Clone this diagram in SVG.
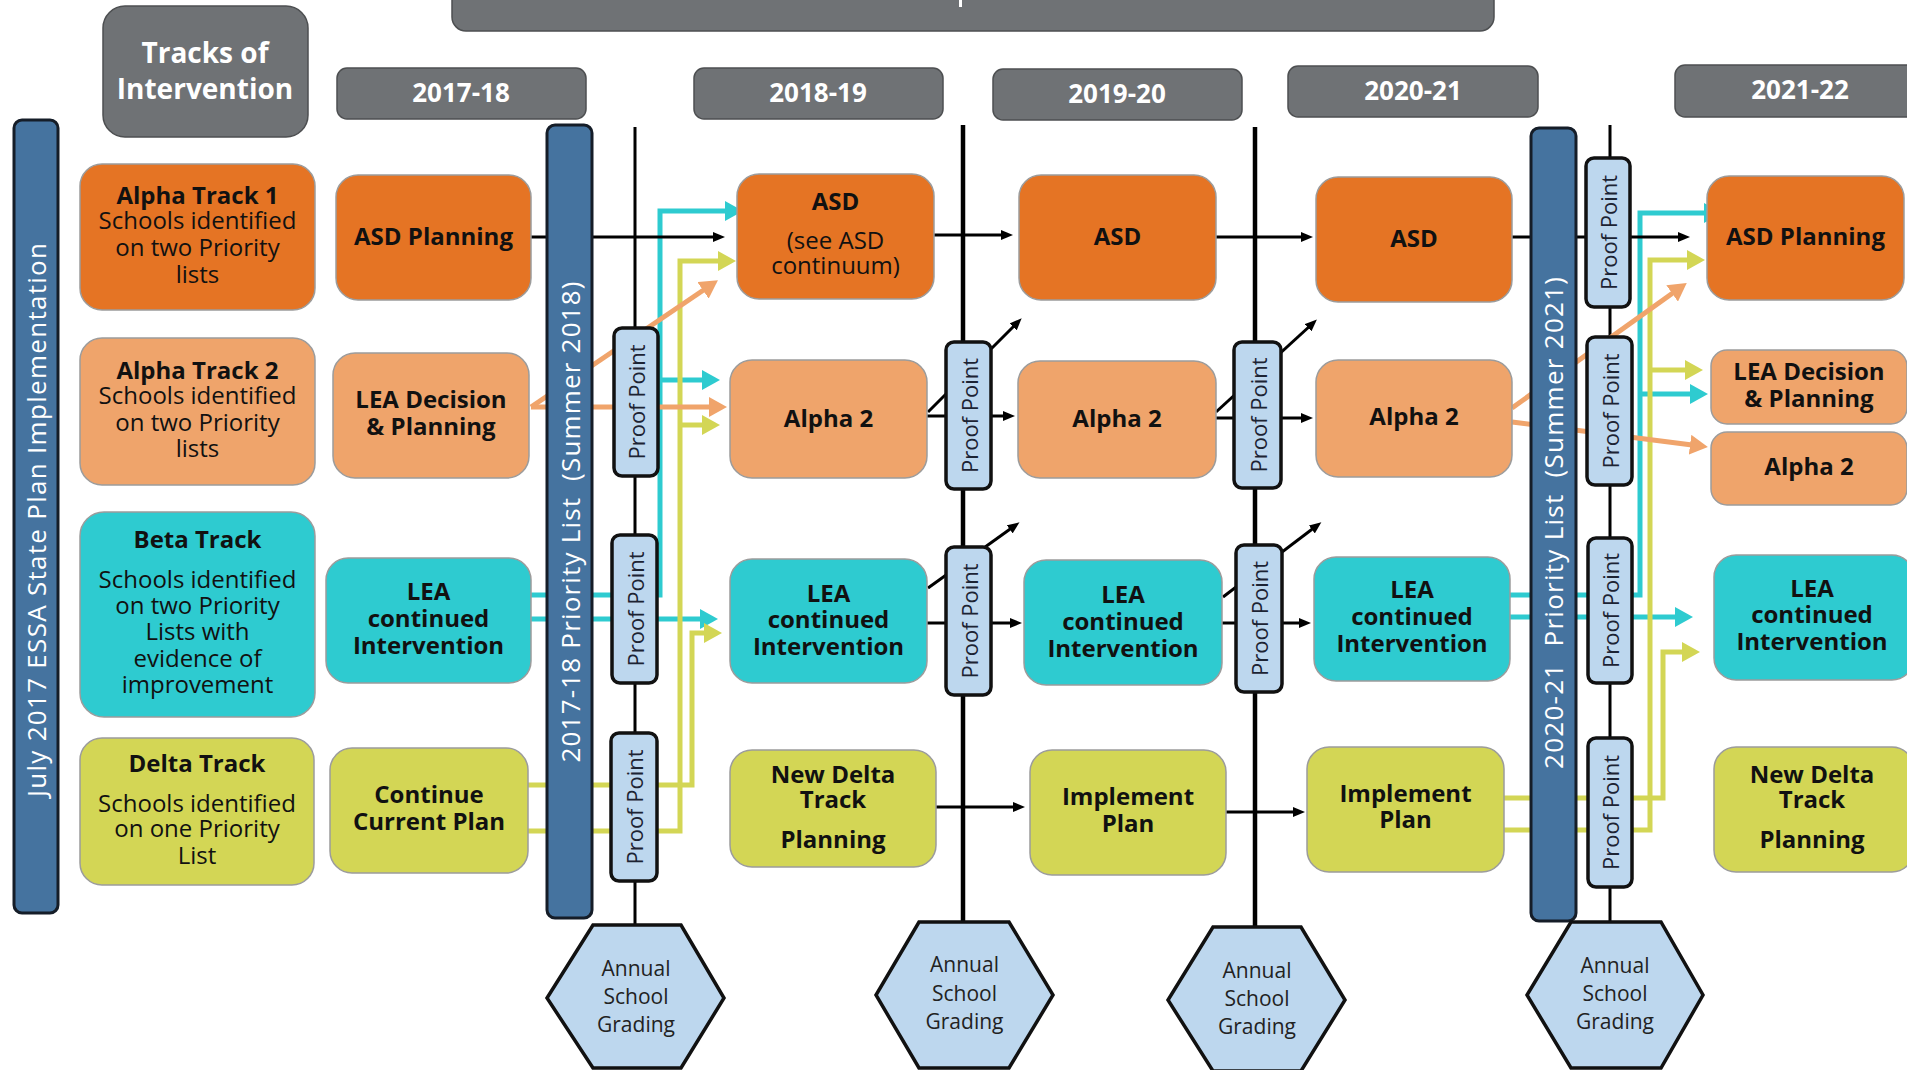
<svg xmlns="http://www.w3.org/2000/svg" width="1907" height="1070" viewBox="0 0 1907 1070">
<style>
text{font-family:"Open Sans","DejaVu Sans",sans-serif;}
.hdr{fill:#6f7275;stroke:#4d4f51;stroke-width:1.5;}
.hdrt{fill:#fff;font-weight:700;font-size:26px;text-anchor:middle;}
.n{stroke:#9c9c9c;stroke-width:1.5;}
.o1{fill:#e57424;}
.o2{fill:#efa46b;}
.cy{fill:#2ecbd0;}
.yl{fill:#d3d655;}
.b{font-weight:700;font-size:24px;fill:#111;text-anchor:middle;}
.r{font-size:24px;fill:#111;text-anchor:middle;}
.bw{font-weight:700;}
.rw{font-weight:400;}
.bar{fill:#45739f;stroke:#151d28;stroke-width:3;}
.bart{fill:#fff;font-size:26px;text-anchor:middle;dominant-baseline:central;white-space:pre;}
.pp{fill:#bdd7ee;stroke:#111;stroke-width:3.5;}
.ppt{fill:#1c2333;font-size:22px;text-anchor:middle;dominant-baseline:central;}
.hex{fill:#bdd7ee;stroke:#111;stroke-width:3.5;}
.hext{fill:#222;font-size:21px;text-anchor:middle;}
.tl{stroke:#000;fill:none;}
.k{stroke:#000;stroke-width:3;fill:none;marker-end:url(#ak);}
.kc{stroke:#2ecbd0;stroke-width:5;fill:none;}
.ky{stroke:#d3d655;stroke-width:5;fill:none;}
.ko{stroke:#f0a46b;stroke-width:5;fill:none;}
</style>
<defs>
<marker id="ak" markerUnits="userSpaceOnUse" markerWidth="12" markerHeight="10" refX="4" refY="5" orient="auto"><path d="M0,0 L12,5 L0,10 z" fill="#000"/></marker>
<marker id="ac" markerUnits="userSpaceOnUse" markerWidth="18" markerHeight="20" refX="6" refY="10" orient="auto"><path d="M0,0 L18,10 L0,20 z" fill="#2ecbd0"/></marker>
<marker id="ay" markerUnits="userSpaceOnUse" markerWidth="18" markerHeight="20" refX="6" refY="10" orient="auto"><path d="M0,0 L18,10 L0,20 z" fill="#d3d655"/></marker>
<marker id="ao" markerUnits="userSpaceOnUse" markerWidth="18" markerHeight="20" refX="6" refY="10" orient="auto"><path d="M0,0 L18,10 L0,20 z" fill="#f0a46b"/></marker>
</defs>
<rect width="1907" height="1070" fill="#fff"/>

<g id="banner">
<rect class="hdr" x="452" y="-20" width="1042" height="51" rx="14"/>
<rect x="959" y="0" width="3" height="7" fill="#fff"/>
</g>

<g id="connectors">
<line class="tl" x1="635" y1="127" x2="635" y2="925" stroke-width="3"/>
<line class="tl" x1="963" y1="125" x2="963" y2="922" stroke-width="4.5"/>
<line class="tl" x1="1255" y1="127" x2="1255" y2="927" stroke-width="4.5"/>
<line class="tl" x1="1610" y1="125" x2="1610" y2="922" stroke-width="3"/>

<polyline class="kc" points="531,595 660,595 660,211 731,211" marker-end="url(#ac)"/>
<polyline class="kc" points="660,380 708,380" marker-end="url(#ac)"/>
<polyline class="kc" points="531,619 706,619" marker-end="url(#ac)"/>
<polyline class="kc" points="1510,595 1640,595 1640,213 1710,213" marker-end="url(#ac)"/>
<polyline class="kc" points="1640,394 1696,394" marker-end="url(#ac)"/>
<polyline class="kc" points="1510,617 1681,617" marker-end="url(#ac)"/>

<polyline class="ky" points="528,831 680,831 680,261 724,261" marker-end="url(#ay)"/>
<polyline class="ky" points="680,425 708,425" marker-end="url(#ay)"/>
<polyline class="ky" points="528,785 692,785 692,633 710,633" marker-end="url(#ay)"/>
<polyline class="ky" points="1504,830 1650,830 1650,260 1693,260" marker-end="url(#ay)"/>
<polyline class="ky" points="1650,370 1691,370" marker-end="url(#ay)"/>
<polyline class="ky" points="1504,798 1663,798 1663,652 1688,652" marker-end="url(#ay)"/>

<line class="ko" x1="531" y1="407" x2="708" y2="287" marker-end="url(#ao)"/>
<line class="ko" x1="531" y1="407" x2="715" y2="407" marker-end="url(#ao)"/>
<line class="ko" x1="1512" y1="408" x2="1677" y2="290" marker-end="url(#ao)"/>
<line class="ko" x1="1512" y1="422" x2="1696" y2="445.5" marker-end="url(#ao)"/>

<line class="k" x1="531" y1="237" x2="717" y2="237"/>
<line class="k" x1="934" y1="235" x2="1005" y2="235"/>
<line class="k" x1="1216" y1="237" x2="1305" y2="237"/>
<line class="k" x1="1512" y1="237" x2="1682" y2="237"/>
<line class="k" x1="927" y1="416" x2="1007" y2="416"/>
<line class="k" x1="928" y1="412" x2="1016" y2="324"/>
<line class="k" x1="1216" y1="418" x2="1305" y2="418"/>
<line class="k" x1="1216" y1="412" x2="1311" y2="325"/>
<line class="k" x1="927" y1="623" x2="1014" y2="623"/>
<line class="k" x1="928" y1="588" x2="1013" y2="527"/>
<line class="k" x1="1222" y1="623" x2="1303" y2="623"/>
<line class="k" x1="1223" y1="597" x2="1315" y2="527"/>
<line class="k" x1="936" y1="807" x2="1017" y2="807"/>
<line class="k" x1="1226" y1="812" x2="1297" y2="812"/>
</g>

<g id="tracks-header">
<rect class="hdr" x="103" y="6" width="205" height="131" rx="22"/>
<text x="205" y="63" fill="#fff" font-weight="700" font-size="28" text-anchor="middle"><tspan x="205">Tracks of</tspan><tspan x="205" dy="36">Intervention</tspan></text>
</g>
<g id="y2017"><rect class="hdr" x="337" y="68" width="249" height="51" rx="10"/><text class="hdrt" x="461" y="102">2017-18</text></g>
<g id="y2018"><rect class="hdr" x="694" y="68" width="249" height="51" rx="10"/><text class="hdrt" x="818" y="102">2018-19</text></g>
<g id="y2019"><rect class="hdr" x="993" y="69" width="249" height="51" rx="10"/><text class="hdrt" x="1117" y="103">2019-20</text></g>
<g id="y2020"><rect class="hdr" x="1288" y="66" width="250" height="51" rx="10"/><text class="hdrt" x="1413" y="100">2020-21</text></g>
<g id="y2021"><rect class="hdr" x="1675" y="65" width="260" height="52" rx="10"/><text class="hdrt" x="1800" y="99">2021-22</text></g>

<g id="bar-july"><rect class="bar" x="14" y="120" width="44" height="793" rx="8"/><text class="bart" transform="translate(36,520) rotate(-90)" textLength="554">July 2017 ESSA State Plan Implementation</text></g>
<g id="bar-2018"><rect class="bar" x="547" y="125" width="45" height="793" rx="8"/><text class="bart" transform="translate(570,522) rotate(-90)" textLength="481">2017-18 Priority List  (Summer 2018)</text></g>
<g id="bar-2021"><rect class="bar" x="1531" y="128" width="45" height="793" rx="8"/><text class="bart" transform="translate(1553,523) rotate(-90)" textLength="492">2020-21  Priority List  (Summer 2021)</text></g>

<g id="alpha1"><rect class="n o1" x="80" y="164" width="235" height="146" rx="22"/>
<text class="r" x="197.5" y="204"><tspan class="bw" x="197.5">Alpha Track 1</tspan><tspan x="197.5" dy="25">Schools identified</tspan><tspan x="197.5" dy="27">on two Priority</tspan><tspan x="197.5" dy="27">lists</tspan></text></g>
<g id="alpha2"><rect class="n o2" x="80" y="338" width="235" height="147" rx="22"/>
<text class="r" x="197.5" y="379"><tspan class="bw" x="197.5">Alpha Track 2</tspan><tspan x="197.5" dy="25">Schools identified</tspan><tspan x="197.5" dy="27">on two Priority</tspan><tspan x="197.5" dy="26">lists</tspan></text></g>
<g id="beta"><rect class="n cy" x="80" y="512" width="235" height="205" rx="24"/>
<text class="r" x="197.5" y="548"><tspan class="bw" x="197.5">Beta Track</tspan><tspan x="197.5" dy="40">Schools identified</tspan><tspan x="197.5" dy="26">on two Priority</tspan><tspan x="197.5" dy="26">Lists with</tspan><tspan x="197.5" dy="27">evidence of</tspan><tspan x="197.5" dy="26">improvement</tspan></text></g>
<g id="delta"><rect class="n yl" x="80" y="738" width="234" height="147" rx="22"/>
<text class="r" x="197" y="772"><tspan class="bw" x="197">Delta Track</tspan><tspan x="197" dy="40">Schools identified</tspan><tspan x="197" dy="25">on one Priority</tspan><tspan x="197" dy="27">List</tspan></text></g>

<g id="asd-planning-1718"><rect class="n o1" x="336" y="175" width="195" height="125" rx="22"/><text class="b" x="433.5" y="245">ASD Planning</text></g>
<g id="lea-decision-1718"><rect class="n o2" x="333" y="353" width="196" height="125" rx="22"/><text class="b" x="431" y="408"><tspan x="431">LEA Decision</tspan><tspan x="431" dy="27">&amp; Planning</tspan></text></g>
<g id="lea-cont-1718"><rect class="n cy" x="326" y="558" width="205" height="125" rx="22"/><text class="b" x="428.5" y="600"><tspan x="428.5">LEA</tspan><tspan x="428.5" dy="27">continued</tspan><tspan x="428.5" dy="27">Intervention</tspan></text></g>
<g id="continue-1718"><rect class="n yl" x="330" y="748" width="198" height="125" rx="22"/><text class="b" x="429" y="803"><tspan x="429">Continue</tspan><tspan x="429" dy="27">Current Plan</tspan></text></g>

<g id="asd-1819"><rect class="n o1" x="737" y="174" width="197" height="125" rx="22"/><text class="r" x="835.5" y="210"><tspan class="bw" x="835.5">ASD</tspan><tspan x="835.5" dy="39">(see ASD</tspan><tspan x="835.5" dy="25">continuum)</tspan></text></g>
<g id="alpha2-1819"><rect class="n o2" x="730" y="360" width="197" height="118" rx="22"/><text class="b" x="828.5" y="427">Alpha 2</text></g>
<g id="lea-cont-1819"><rect class="n cy" x="730" y="559" width="197" height="124" rx="22"/><text class="b" x="828.5" y="602"><tspan x="828.5">LEA</tspan><tspan x="828.5" dy="26">continued</tspan><tspan x="828.5" dy="27">Intervention</tspan></text></g>
<g id="newdelta-1819"><rect class="n yl" x="730" y="750" width="206" height="117" rx="22"/><text class="b" x="833" y="783"><tspan x="833">New Delta</tspan><tspan x="833" dy="25">Track</tspan><tspan x="833" dy="40">Planning</tspan></text></g>

<g id="asd-1920"><rect class="n o1" x="1019" y="175" width="197" height="125" rx="22"/><text class="b" x="1117.5" y="245">ASD</text></g>
<g id="alpha2-1920"><rect class="n o2" x="1018" y="361" width="198" height="117" rx="22"/><text class="b" x="1117" y="427">Alpha 2</text></g>
<g id="lea-cont-1920"><rect class="n cy" x="1024" y="560" width="198" height="125" rx="22"/><text class="b" x="1123" y="603"><tspan x="1123">LEA</tspan><tspan x="1123" dy="27">continued</tspan><tspan x="1123" dy="27">Intervention</tspan></text></g>
<g id="implement-1920"><rect class="n yl" x="1030" y="750" width="196" height="125" rx="22"/><text class="b" x="1128" y="805"><tspan x="1128">Implement</tspan><tspan x="1128" dy="27">Plan</tspan></text></g>

<g id="asd-2021"><rect class="n o1" x="1316" y="177" width="196" height="125" rx="22"/><text class="b" x="1414" y="247">ASD</text></g>
<g id="alpha2-2021"><rect class="n o2" x="1316" y="360" width="196" height="117" rx="22"/><text class="b" x="1414" y="425">Alpha 2</text></g>
<g id="lea-cont-2021"><rect class="n cy" x="1314" y="557" width="196" height="124" rx="22"/><text class="b" x="1412" y="598"><tspan x="1412">LEA</tspan><tspan x="1412" dy="27">continued</tspan><tspan x="1412" dy="27">Intervention</tspan></text></g>
<g id="implement-2021"><rect class="n yl" x="1307" y="747" width="197" height="125" rx="22"/><text class="b" x="1405.5" y="802"><tspan x="1405.5">Implement</tspan><tspan x="1405.5" dy="26">Plan</tspan></text></g>

<g id="asd-planning-2122"><rect class="n o1" x="1707" y="176" width="197" height="124" rx="22"/><text class="b" x="1805.5" y="245">ASD Planning</text></g>
<g id="lea-decision-2122"><rect class="n o2" x="1711" y="350" width="196" height="74" rx="16"/><text class="b" x="1809" y="380"><tspan x="1809">LEA Decision</tspan><tspan x="1809" dy="27">&amp; Planning</tspan></text></g>
<g id="alpha2-2122"><rect class="n o2" x="1711" y="432" width="196" height="73" rx="16"/><text class="b" x="1809" y="475">Alpha 2</text></g>
<g id="lea-cont-2122"><rect class="n cy" x="1714" y="555" width="200" height="125" rx="22"/><text class="b" x="1812" y="597"><tspan x="1812">LEA</tspan><tspan x="1812" dy="26">continued</tspan><tspan x="1812" dy="27">Intervention</tspan></text></g>
<g id="newdelta-2122"><rect class="n yl" x="1714" y="747" width="200" height="125" rx="22"/><text class="b" x="1812" y="783"><tspan x="1812">New Delta</tspan><tspan x="1812" dy="25">Track</tspan><tspan x="1812" dy="40">Planning</tspan></text></g>

<g id="pp-a1"><rect class="pp" x="614" y="328" width="44" height="148" rx="8"/><text class="ppt" transform="translate(636,402) rotate(-90)">Proof Point</text></g>
<g id="pp-a2"><rect class="pp" x="612" y="535" width="45" height="148" rx="8"/><text class="ppt" transform="translate(634.5,609) rotate(-90)">Proof Point</text></g>
<g id="pp-a3"><rect class="pp" x="611" y="733" width="46" height="148" rx="8"/><text class="ppt" transform="translate(634,807) rotate(-90)">Proof Point</text></g>
<g id="pp-b1"><rect class="pp" x="946" y="342" width="45" height="147" rx="8"/><text class="ppt" transform="translate(968.5,415.5) rotate(-90)">Proof Point</text></g>
<g id="pp-b2"><rect class="pp" x="946" y="547" width="45" height="148" rx="8"/><text class="ppt" transform="translate(968.5,621) rotate(-90)">Proof Point</text></g>
<g id="pp-c1"><rect class="pp" x="1234" y="342" width="47" height="146" rx="8"/><text class="ppt" transform="translate(1257.5,415) rotate(-90)">Proof Point</text></g>
<g id="pp-c2"><rect class="pp" x="1236" y="545" width="46" height="147" rx="8"/><text class="ppt" transform="translate(1259,618.5) rotate(-90)">Proof Point</text></g>
<g id="pp-d1"><rect class="pp" x="1586" y="158" width="44" height="149" rx="8"/><text class="ppt" transform="translate(1608,232.5) rotate(-90)">Proof Point</text></g>
<g id="pp-d2"><rect class="pp" x="1587" y="337" width="45" height="148" rx="8"/><text class="ppt" transform="translate(1609.5,411) rotate(-90)">Proof Point</text></g>
<g id="pp-d3"><rect class="pp" x="1588" y="538" width="44" height="145" rx="8"/><text class="ppt" transform="translate(1610,610.5) rotate(-90)">Proof Point</text></g>
<g id="pp-d4"><rect class="pp" x="1588" y="738" width="44" height="149" rx="8"/><text class="ppt" transform="translate(1610,812.5) rotate(-90)">Proof Point</text></g>

<g id="hex-a"><polygon class="hex" points="593,925 681,925 724,998 681,1068 593,1068 547,998"/>
<text class="hext" x="636" y="976"><tspan x="636">Annual</tspan><tspan x="636" dy="28">School</tspan><tspan x="636" dy="28">Grading</tspan></text></g>
<g id="hex-b"><polygon class="hex" points="919,922 1009,922 1053,995 1009,1068 919,1068 876,995"/>
<text class="hext" x="964.5" y="972"><tspan x="964.5">Annual</tspan><tspan x="964.5" dy="29">School</tspan><tspan x="964.5" dy="28">Grading</tspan></text></g>
<g id="hex-c"><polygon class="hex" points="1213,927 1301,927 1345,1000 1301,1071 1213,1071 1168,1000"/>
<text class="hext" x="1257" y="978"><tspan x="1257">Annual</tspan><tspan x="1257" dy="28">School</tspan><tspan x="1257" dy="28">Grading</tspan></text></g>
<g id="hex-d"><polygon class="hex" points="1571,922 1661,922 1703,995 1661,1068 1571,1068 1527,995"/>
<text class="hext" x="1615" y="973"><tspan x="1615">Annual</tspan><tspan x="1615" dy="28">School</tspan><tspan x="1615" dy="28">Grading</tspan></text></g>
</svg>
